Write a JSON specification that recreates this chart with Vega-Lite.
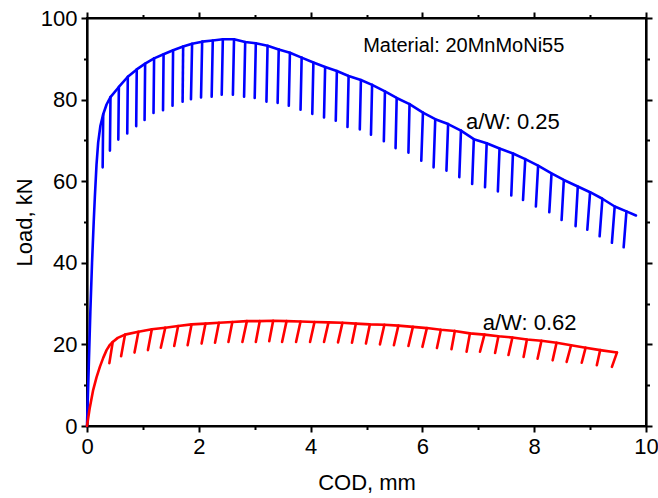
{
  "$schema": "https://vega.github.io/schema/vega-lite/v6.json",
  "width": 559,
  "height": 408,
  "autosize": "none",
  "padding": {"left": 87, "top": 18, "right": 12, "bottom": 72},
  "background": "white",
  "config": {
    "view": {"stroke": "#000", "strokeWidth": 2},
    "font": "Liberation Sans",
    "axis": {"domainColor": "#000", "domainWidth": 2.2, "tickColor": "#000", "tickWidth": 2, "labelColor": "#000", "titleColor": "#000", "labelFont": "Liberation Sans", "titleFont": "Liberation Sans", "labelFontSize": 22, "titleFontSize": 22, "titleFontWeight": "normal", "grid": false, "labelFlush": false, "labelOverlap": false}
  },
  "datasets": {
    "curves": [
      {"s":"0.25","g":0,"x":0,"y":0},{"s":"0.25","g":0,"x":0.03,"y":14},{"s":"0.25","g":0,"x":0.06,"y":28},{"s":"0.25","g":0,"x":0.09,"y":40},{"s":"0.25","g":0,"x":0.12,"y":50},{"s":"0.25","g":0,"x":0.14,"y":56},{"s":"0.25","g":0,"x":0.17,"y":64},{"s":"0.25","g":0,"x":0.2,"y":69.5},{"s":"0.25","g":0,"x":0.24,"y":73.6},{"s":"0.25","g":0,"x":0.29,"y":76.4},{"s":"0.25","g":0,"x":0.35,"y":78.8},{"s":"0.25","g":0,"x":0.42,"y":80.6},{"s":"0.25","g":0,"x":0.57,"y":83.1},{"s":"0.25","g":0,"x":0.73,"y":85.6},{"s":"0.25","g":0,"x":0.89,"y":87.4},{"s":"0.25","g":0,"x":1.04,"y":88.8},{"s":"0.25","g":0,"x":1.2,"y":90.1},{"s":"0.25","g":0,"x":1.37,"y":91.1},{"s":"0.25","g":0,"x":1.54,"y":92.1},{"s":"0.25","g":0,"x":1.72,"y":93.0},{"s":"0.25","g":0,"x":1.88,"y":93.7},{"s":"0.25","g":0,"x":2.06,"y":94.2},{"s":"0.25","g":0,"x":2.25,"y":94.5},{"s":"0.25","g":0,"x":2.43,"y":94.8},{"s":"0.25","g":0,"x":2.63,"y":94.8},{"s":"0.25","g":0,"x":2.83,"y":94.1},{"s":"0.25","g":0,"x":3.02,"y":93.8},{"s":"0.25","g":0,"x":3.23,"y":93.2},{"s":"0.25","g":0,"x":3.43,"y":92.3},{"s":"0.25","g":0,"x":3.63,"y":91.5},{"s":"0.25","g":0,"x":3.84,"y":90.3},{"s":"0.25","g":0,"x":4.05,"y":89.1},{"s":"0.25","g":0,"x":4.26,"y":88.0},{"s":"0.25","g":0,"x":4.47,"y":87.0},{"s":"0.25","g":0,"x":4.68,"y":85.8},{"s":"0.25","g":0,"x":4.9,"y":84.8},{"s":"0.25","g":0,"x":5.1,"y":83.6},{"s":"0.25","g":0,"x":5.33,"y":82.0},{"s":"0.25","g":0,"x":5.54,"y":80.4},{"s":"0.25","g":0,"x":5.77,"y":78.9},{"s":"0.25","g":0,"x":6.01,"y":76.8},{"s":"0.25","g":0,"x":6.23,"y":75.2},{"s":"0.25","g":0,"x":6.46,"y":74.0},{"s":"0.25","g":0,"x":6.69,"y":72.4},{"s":"0.25","g":0,"x":6.92,"y":70.3},{"s":"0.25","g":0,"x":7.15,"y":69.3},{"s":"0.25","g":0,"x":7.38,"y":68.0},{"s":"0.25","g":0,"x":7.62,"y":66.8},{"s":"0.25","g":0,"x":7.84,"y":65.4},{"s":"0.25","g":0,"x":8.07,"y":63.8},{"s":"0.25","g":0,"x":8.31,"y":61.9},{"s":"0.25","g":0,"x":8.53,"y":60.3},{"s":"0.25","g":0,"x":8.78,"y":58.7},{"s":"0.25","g":0,"x":9.0,"y":57.3},{"s":"0.25","g":0,"x":9.22,"y":55.7},{"s":"0.25","g":0,"x":9.44,"y":53.8},{"s":"0.25","g":0,"x":9.65,"y":52.6},{"s":"0.25","g":0,"x":9.82,"y":51.6},
      {"s":"0.25","g":1,"x":0.29,"y":76.4},{"s":"0.25","g":1,"x":0.28,"y":63.4},
      {"s":"0.25","g":2,"x":0.42,"y":80.6},{"s":"0.25","g":2,"x":0.41,"y":67.5},
      {"s":"0.25","g":3,"x":0.57,"y":83.1},{"s":"0.25","g":3,"x":0.56,"y":70.2},
      {"s":"0.25","g":4,"x":0.73,"y":85.6},{"s":"0.25","g":4,"x":0.72,"y":71.7},
      {"s":"0.25","g":5,"x":0.89,"y":87.4},{"s":"0.25","g":5,"x":0.88,"y":73.5},
      {"s":"0.25","g":6,"x":1.04,"y":88.8},{"s":"0.25","g":6,"x":1.03,"y":75.0},
      {"s":"0.25","g":7,"x":1.2,"y":90.1},{"s":"0.25","g":7,"x":1.19,"y":76.7},
      {"s":"0.25","g":8,"x":1.37,"y":91.1},{"s":"0.25","g":8,"x":1.36,"y":77.4},
      {"s":"0.25","g":9,"x":1.54,"y":92.1},{"s":"0.25","g":9,"x":1.53,"y":78.5},
      {"s":"0.25","g":10,"x":1.72,"y":93.0},{"s":"0.25","g":10,"x":1.71,"y":79.5},
      {"s":"0.25","g":11,"x":1.88,"y":93.7},{"s":"0.25","g":11,"x":1.86,"y":80.1},
      {"s":"0.25","g":12,"x":2.06,"y":94.2},{"s":"0.25","g":12,"x":2.04,"y":80.5},
      {"s":"0.25","g":13,"x":2.25,"y":94.5},{"s":"0.25","g":13,"x":2.23,"y":80.7},
      {"s":"0.25","g":14,"x":2.43,"y":94.8},{"s":"0.25","g":14,"x":2.41,"y":81.2},
      {"s":"0.25","g":15,"x":2.63,"y":94.8},{"s":"0.25","g":15,"x":2.61,"y":81.2},
      {"s":"0.25","g":16,"x":2.83,"y":94.1},{"s":"0.25","g":16,"x":2.81,"y":80.7},
      {"s":"0.25","g":17,"x":3.02,"y":93.8},{"s":"0.25","g":17,"x":3.0,"y":80.4},
      {"s":"0.25","g":18,"x":3.23,"y":93.2},{"s":"0.25","g":18,"x":3.21,"y":79.5},
      {"s":"0.25","g":19,"x":3.43,"y":92.3},{"s":"0.25","g":19,"x":3.41,"y":79.2},
      {"s":"0.25","g":20,"x":3.63,"y":91.5},{"s":"0.25","g":20,"x":3.61,"y":78.5},
      {"s":"0.25","g":21,"x":3.84,"y":90.3},{"s":"0.25","g":21,"x":3.82,"y":77.5},
      {"s":"0.25","g":22,"x":4.05,"y":89.1},{"s":"0.25","g":22,"x":4.03,"y":76.5},
      {"s":"0.25","g":23,"x":4.26,"y":88.0},{"s":"0.25","g":23,"x":4.24,"y":75.6},
      {"s":"0.25","g":24,"x":4.47,"y":87.0},{"s":"0.25","g":24,"x":4.45,"y":74.8},
      {"s":"0.25","g":25,"x":4.68,"y":85.8},{"s":"0.25","g":25,"x":4.66,"y":73.3},
      {"s":"0.25","g":26,"x":4.9,"y":84.8},{"s":"0.25","g":26,"x":4.88,"y":72.7},
      {"s":"0.25","g":27,"x":5.1,"y":83.6},{"s":"0.25","g":27,"x":5.08,"y":71.4},
      {"s":"0.25","g":28,"x":5.33,"y":82.0},{"s":"0.25","g":28,"x":5.31,"y":69.8},
      {"s":"0.25","g":29,"x":5.54,"y":80.4},{"s":"0.25","g":29,"x":5.52,"y":68.1},
      {"s":"0.25","g":30,"x":5.77,"y":78.9},{"s":"0.25","g":30,"x":5.75,"y":67.0},
      {"s":"0.25","g":31,"x":6.01,"y":76.8},{"s":"0.25","g":31,"x":5.98,"y":65.0},
      {"s":"0.25","g":32,"x":6.23,"y":75.2},{"s":"0.25","g":32,"x":6.2,"y":63.4},
      {"s":"0.25","g":33,"x":6.46,"y":74.0},{"s":"0.25","g":33,"x":6.43,"y":62.6},
      {"s":"0.25","g":34,"x":6.69,"y":72.4},{"s":"0.25","g":34,"x":6.66,"y":61.0},
      {"s":"0.25","g":35,"x":6.92,"y":70.3},{"s":"0.25","g":35,"x":6.89,"y":59.3},
      {"s":"0.25","g":36,"x":7.15,"y":69.3},{"s":"0.25","g":36,"x":7.12,"y":58.5},
      {"s":"0.25","g":37,"x":7.38,"y":68.0},{"s":"0.25","g":37,"x":7.35,"y":57.5},
      {"s":"0.25","g":38,"x":7.62,"y":66.8},{"s":"0.25","g":38,"x":7.59,"y":56.5},
      {"s":"0.25","g":39,"x":7.84,"y":65.4},{"s":"0.25","g":39,"x":7.8,"y":55.4},
      {"s":"0.25","g":40,"x":8.07,"y":63.8},{"s":"0.25","g":40,"x":8.03,"y":53.8},
      {"s":"0.25","g":41,"x":8.31,"y":61.9},{"s":"0.25","g":41,"x":8.27,"y":52.4},
      {"s":"0.25","g":42,"x":8.53,"y":60.3},{"s":"0.25","g":42,"x":8.49,"y":50.5},
      {"s":"0.25","g":43,"x":8.78,"y":58.7},{"s":"0.25","g":43,"x":8.74,"y":49.0},
      {"s":"0.25","g":44,"x":9.0,"y":57.3},{"s":"0.25","g":44,"x":8.95,"y":48.1},
      {"s":"0.25","g":45,"x":9.22,"y":55.7},{"s":"0.25","g":45,"x":9.17,"y":46.5},
      {"s":"0.25","g":46,"x":9.44,"y":53.8},{"s":"0.25","g":46,"x":9.39,"y":44.9},
      {"s":"0.25","g":47,"x":9.65,"y":52.6},{"s":"0.25","g":47,"x":9.6,"y":43.8},
      {"s":"0.62","g":0,"x":0,"y":0},{"s":"0.62","g":0,"x":0.05,"y":4.5},{"s":"0.62","g":0,"x":0.11,"y":8.8},{"s":"0.62","g":0,"x":0.17,"y":11.9},{"s":"0.62","g":0,"x":0.23,"y":14.5},{"s":"0.62","g":0,"x":0.29,"y":16.7},{"s":"0.62","g":0,"x":0.35,"y":18.6},{"s":"0.62","g":0,"x":0.41,"y":19.9},{"s":"0.62","g":0,"x":0.46,"y":20.6},{"s":"0.62","g":0,"x":0.55,"y":21.6},{"s":"0.62","g":0,"x":0.68,"y":22.4},{"s":"0.62","g":0,"x":0.92,"y":23.1},{"s":"0.62","g":0,"x":1.16,"y":23.7},{"s":"0.62","g":0,"x":1.4,"y":24.1},{"s":"0.62","g":0,"x":1.63,"y":24.5},{"s":"0.62","g":0,"x":1.87,"y":24.9},{"s":"0.62","g":0,"x":2.12,"y":25.1},{"s":"0.62","g":0,"x":2.36,"y":25.3},{"s":"0.62","g":0,"x":2.6,"y":25.5},{"s":"0.62","g":0,"x":2.86,"y":25.7},{"s":"0.62","g":0,"x":3.09,"y":25.7},{"s":"0.62","g":0,"x":3.33,"y":25.8},{"s":"0.62","g":0,"x":3.57,"y":25.7},{"s":"0.62","g":0,"x":3.82,"y":25.6},{"s":"0.62","g":0,"x":4.07,"y":25.5},{"s":"0.62","g":0,"x":4.32,"y":25.4},{"s":"0.62","g":0,"x":4.57,"y":25.3},{"s":"0.62","g":0,"x":4.81,"y":25.1},{"s":"0.62","g":0,"x":5.06,"y":24.9},{"s":"0.62","g":0,"x":5.32,"y":24.8},{"s":"0.62","g":0,"x":5.57,"y":24.6},{"s":"0.62","g":0,"x":5.83,"y":24.3},{"s":"0.62","g":0,"x":6.08,"y":24.0},{"s":"0.62","g":0,"x":6.33,"y":23.6},{"s":"0.62","g":0,"x":6.58,"y":23.3},{"s":"0.62","g":0,"x":6.85,"y":22.7},{"s":"0.62","g":0,"x":7.11,"y":22.4},{"s":"0.62","g":0,"x":7.36,"y":22.0},{"s":"0.62","g":0,"x":7.61,"y":21.7},{"s":"0.62","g":0,"x":7.87,"y":21.2},{"s":"0.62","g":0,"x":8.13,"y":20.9},{"s":"0.62","g":0,"x":8.4,"y":20.4},{"s":"0.62","g":0,"x":8.66,"y":19.8},{"s":"0.62","g":0,"x":8.92,"y":19.2},{"s":"0.62","g":0,"x":9.18,"y":18.6},{"s":"0.62","g":0,"x":9.48,"y":18.0},
      {"s":"0.62","g":1,"x":0.46,"y":20.6},{"s":"0.62","g":1,"x":0.4,"y":15.4},
      {"s":"0.62","g":2,"x":0.68,"y":22.4},{"s":"0.62","g":2,"x":0.61,"y":17.1},
      {"s":"0.62","g":3,"x":0.92,"y":23.1},{"s":"0.62","g":3,"x":0.85,"y":18.0},
      {"s":"0.62","g":4,"x":1.16,"y":23.7},{"s":"0.62","g":4,"x":1.09,"y":18.6},
      {"s":"0.62","g":5,"x":1.4,"y":24.1},{"s":"0.62","g":5,"x":1.32,"y":19.2},
      {"s":"0.62","g":6,"x":1.63,"y":24.5},{"s":"0.62","g":6,"x":1.56,"y":19.6},
      {"s":"0.62","g":7,"x":1.87,"y":24.9},{"s":"0.62","g":7,"x":1.8,"y":19.8},
      {"s":"0.62","g":8,"x":2.12,"y":25.1},{"s":"0.62","g":8,"x":2.05,"y":20.2},
      {"s":"0.62","g":9,"x":2.36,"y":25.3},{"s":"0.62","g":9,"x":2.29,"y":20.4},
      {"s":"0.62","g":10,"x":2.6,"y":25.5},{"s":"0.62","g":10,"x":2.53,"y":20.6},
      {"s":"0.62","g":11,"x":2.86,"y":25.7},{"s":"0.62","g":11,"x":2.78,"y":20.6},
      {"s":"0.62","g":12,"x":3.09,"y":25.7},{"s":"0.62","g":12,"x":3.02,"y":20.6},
      {"s":"0.62","g":13,"x":3.33,"y":25.8},{"s":"0.62","g":13,"x":3.26,"y":20.8},
      {"s":"0.62","g":14,"x":3.57,"y":25.7},{"s":"0.62","g":14,"x":3.49,"y":20.6},
      {"s":"0.62","g":15,"x":3.82,"y":25.6},{"s":"0.62","g":15,"x":3.74,"y":20.6},
      {"s":"0.62","g":16,"x":4.07,"y":25.5},{"s":"0.62","g":16,"x":3.99,"y":20.6},
      {"s":"0.62","g":17,"x":4.32,"y":25.4},{"s":"0.62","g":17,"x":4.24,"y":20.6},
      {"s":"0.62","g":18,"x":4.57,"y":25.3},{"s":"0.62","g":18,"x":4.49,"y":20.5},
      {"s":"0.62","g":19,"x":4.81,"y":25.1},{"s":"0.62","g":19,"x":4.74,"y":20.4},
      {"s":"0.62","g":20,"x":5.06,"y":24.9},{"s":"0.62","g":20,"x":4.99,"y":20.2},
      {"s":"0.62","g":21,"x":5.32,"y":24.8},{"s":"0.62","g":21,"x":5.24,"y":20.0},
      {"s":"0.62","g":22,"x":5.57,"y":24.6},{"s":"0.62","g":22,"x":5.49,"y":19.8},
      {"s":"0.62","g":23,"x":5.83,"y":24.3},{"s":"0.62","g":23,"x":5.75,"y":19.6},
      {"s":"0.62","g":24,"x":6.08,"y":24.0},{"s":"0.62","g":24,"x":6.0,"y":19.4},
      {"s":"0.62","g":25,"x":6.33,"y":23.6},{"s":"0.62","g":25,"x":6.26,"y":19.1},
      {"s":"0.62","g":26,"x":6.58,"y":23.3},{"s":"0.62","g":26,"x":6.52,"y":18.8},
      {"s":"0.62","g":27,"x":6.85,"y":22.7},{"s":"0.62","g":27,"x":6.79,"y":18.2},
      {"s":"0.62","g":28,"x":7.11,"y":22.4},{"s":"0.62","g":28,"x":7.03,"y":18.2},
      {"s":"0.62","g":29,"x":7.36,"y":22.0},{"s":"0.62","g":29,"x":7.3,"y":17.9},
      {"s":"0.62","g":30,"x":7.61,"y":21.7},{"s":"0.62","g":30,"x":7.54,"y":17.4},
      {"s":"0.62","g":31,"x":7.87,"y":21.2},{"s":"0.62","g":31,"x":7.81,"y":16.9},
      {"s":"0.62","g":32,"x":8.13,"y":20.9},{"s":"0.62","g":32,"x":8.06,"y":16.5},
      {"s":"0.62","g":33,"x":8.4,"y":20.4},{"s":"0.62","g":33,"x":8.33,"y":16.1},
      {"s":"0.62","g":34,"x":8.66,"y":19.8},{"s":"0.62","g":34,"x":8.58,"y":15.7},
      {"s":"0.62","g":35,"x":8.92,"y":19.2},{"s":"0.62","g":35,"x":8.85,"y":15.5},
      {"s":"0.62","g":36,"x":9.18,"y":18.6},{"s":"0.62","g":36,"x":9.12,"y":14.9},
      {"s":"0.62","g":37,"x":9.48,"y":18.0},{"s":"0.62","g":37,"x":9.39,"y":14.5}
    ],
    "title_note": [
      {"t":"Material: 20MnMoNi55","x":4.94,"y":93.2}
    ],
    "labels": [
      {"t":"a/W: 0.25","x":6.78,"y":74.6},
      {"t":"a/W: 0.62","x":7.08,"y":25.3}
    ]
  },
  "layer": [
    {
      "data": {"name": "curves"},
      "mark": {"type": "line", "strokeWidth": 2.6, "strokeJoin": "round", "strokeCap": "round"},
      "encoding": {
        "x": {"field": "x", "type": "quantitative", "scale": {"domain": [0, 10], "nice": false, "zero": false},
          "axis": {"orient": "bottom", "values": [0,1,2,3,4,5,6,7,8,9,10], "labelExpr": "datum.value % 2 === 0 ? datum.label : ''", "tickSize": {"condition": {"test": "datum.value % 2 !== 0", "value": 3.5}, "value": 6}, "labelPadding": 4, "title": "COD, mm", "titlePadding": 15}},
        "y": {"field": "y", "type": "quantitative", "scale": {"domain": [0, 100], "nice": false, "zero": false},
          "axis": {"orient": "left", "values": [0,10,20,30,40,50,60,70,80,90,100], "labelExpr": "datum.value % 20 === 0 ? datum.label : ''", "tickSize": {"condition": {"test": "datum.value % 20 !== 0", "value": 3.5}, "value": 6}, "labelPadding": 4, "title": "Load, kN", "titlePadding": 4}},
        "color": {"field": "s", "type": "nominal", "scale": {"domain": ["0.25", "0.62"], "range": ["#0000ff", "#ff0000"]}, "legend": null},
        "detail": {"field": "g", "type": "nominal"}
      }
    },
    {
      "data": {"name": "title_note"},
      "mark": {"type": "text", "align": "left", "baseline": "middle", "fontSize": 20, "font": "Liberation Sans", "color": "#000"},
      "encoding": {
        "x": {"field": "x", "type": "quantitative",
          "axis": {"orient": "top", "values": [0,1,2,3,4,5,6,7,8,9,10], "labels": false, "title": null, "tickSize": {"condition": {"test": "datum.value % 2 !== 0", "value": 3.5}, "value": 6}}},
        "y": {"field": "y", "type": "quantitative",
          "axis": {"orient": "right", "values": [0,10,20,30,40,50,60,70,80,90,100], "labels": false, "title": null, "tickSize": {"condition": {"test": "datum.value % 20 !== 0", "value": 3.5}, "value": 6}}},
        "text": {"field": "t", "type": "nominal"}
      }
    },
    {
      "data": {"name": "labels"},
      "mark": {"type": "text", "align": "left", "baseline": "middle", "fontSize": 22, "font": "Liberation Sans", "color": "#000"},
      "encoding": {
        "x": {"field": "x", "type": "quantitative", "axis": null},
        "y": {"field": "y", "type": "quantitative", "axis": null},
        "text": {"field": "t", "type": "nominal"}
      }
    }
  ],
  "resolve": {"axis": {"x": "independent", "y": "independent"}}
}
